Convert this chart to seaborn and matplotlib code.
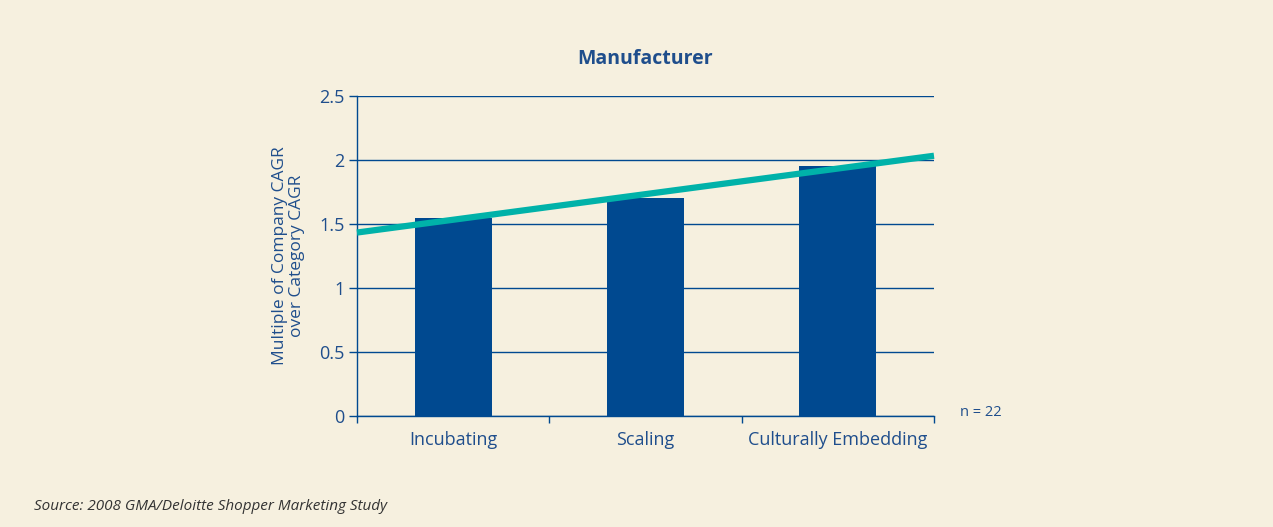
import numpy as np
import pandas as pd
import seaborn as sns
import matplotlib
matplotlib.use("Agg")
from matplotlib import pyplot as plt
from matplotlib.ticker import FixedLocator

# data
stages = ["Incubating", "Scaling", "Culturally Embedding"]
multiples = [1.55, 1.70, 1.95]
y_ticks = [0, 0.5, 1, 1.5, 2, 2.5]
y_tick_labels = ["0", "0.5", "1", "1.5", "2", "2.5"]

bg = "#F6F0DF"
navy = "#004990"
text_blue = "#1F4E8C"
teal = "#00B2A9"

sns.set_theme(style="white")
plt.rcParams["font.family"] = ["Open Sans", "DejaVu Sans"]

df = pd.DataFrame({"stage": stages, "multiple": multiples})

fig = plt.figure(figsize=(12.73, 5.27), dpi=100, facecolor=bg)
ax = fig.add_axes([0.2804, 0.2106, 0.4533, 0.6072])
ax.set_facecolor(bg)

sns.barplot(data=df, x="stage", y="multiple", color=navy, width=0.4,
            saturation=1, linewidth=0, edgecolor=navy, ax=ax, zorder=3)
ax.set_xlim(-0.5, 2.5)

# linear trend across the three stages
sns.regplot(x=np.arange(len(stages)), y=np.array(multiples), scatter=False, ci=None,
            truncate=False, color=teal, ax=ax,
            line_kws={"linewidth": 4.5, "zorder": 4, "clip_on": False,
                      "solid_capstyle": "butt"})
ax.set_xlim(-0.5, 2.5)
ax.set_ylim(0, 2.5)

ax.set_yticks(y_ticks)
ax.set_yticklabels(y_tick_labels)
ax.yaxis.grid(True, color=navy, linewidth=1.0, zorder=0)
ax.set_axisbelow(True)

ax.set_xticks(range(len(stages)))
ax.set_xticklabels(stages)
ax.xaxis.set_minor_locator(FixedLocator([-0.5, 0.5, 1.5, 2.5]))
ax.tick_params(axis="x", which="major", length=0, pad=11, labelsize=13, colors=text_blue)
ax.tick_params(axis="x", which="minor", length=5, width=1.0, color=navy, direction="out",
               bottom=True)
ax.tick_params(axis="y", length=6, width=1.0, color=navy, direction="out", left=True,
               labelsize=13, labelcolor=text_blue, pad=3)

for s in ["top", "right"]:
    ax.spines[s].set_visible(False)
for s in ["left", "bottom"]:
    ax.spines[s].set_color(navy)
    ax.spines[s].set_linewidth(1.0)

ax.set_xlabel("")
ax.set_ylabel("Multiple of Company CAGR\nover Category CAGR", color=text_blue,
              fontsize=12.5, labelpad=10, linespacing=1.1)
ax.set_title("Manufacturer", color=text_blue, fontsize=14, fontweight="bold", pad=23)

fig.text(0.754, 0.218, "n = 22", color=text_blue, fontsize=10.5, va="center")
fig.text(0.027, 0.038, "Source: 2008 GMA/Deloitte Shopper Marketing Study",
         color="#333333", fontsize=11, style="italic", va="center")

fig.savefig("out.png", dpi=100, facecolor=bg)
